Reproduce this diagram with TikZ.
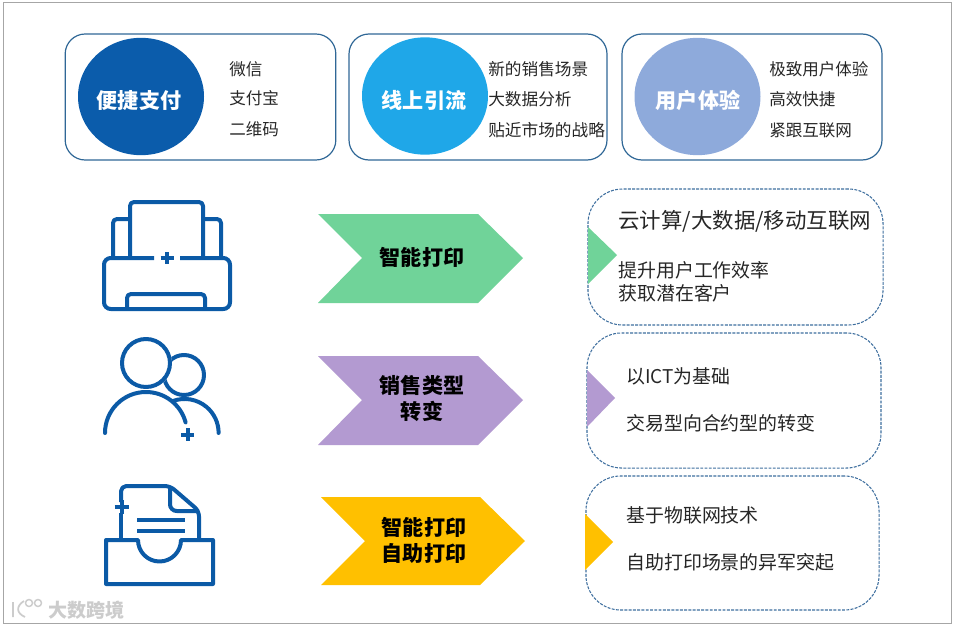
\documentclass[tikz,border=0pt]{standalone}
\usepackage{fontspec}
\setmainfont{Noto Sans CJK SC}
\usetikzlibrary{arrows.meta,positioning,shapes.geometric}
\definecolor{iconblue}{HTML}{0B5AA6}
\definecolor{cardblue}{HTML}{2F6796}
\definecolor{dashblue}{HTML}{3E6E9E}
\definecolor{payblue}{HTML}{0B5CAB}
\definecolor{flowblue}{HTML}{1FA7E8}
\definecolor{userblue}{HTML}{8EAADB}
\definecolor{printgreen}{HTML}{70D399}
\definecolor{salepurple}{HTML}{B39AD1}
\definecolor{selfyellow}{HTML}{FFC000}
\begin{document}
\begin{tikzpicture}[x=0.75pt, y=-0.75pt,
  card/.style={draw=cardblue, line width=0.9pt, rounded corners=15pt, minimum height=94.5pt},
  bubble/.style={ellipse, minimum width=94.5pt, minimum height=88pt, inner sep=0pt},
  bubbletext/.style={inner sep=0pt, text=white, font=\fontsize{15.8pt}{19pt}\selectfont\bfseries},
  item/.style={anchor=west, inner sep=0pt, text=black!85, font=\fontsize{12.4pt}{15pt}\selectfont},
  panel/.style={draw=dashblue, line width=0.8pt, rounded corners=26pt, dash pattern=on 2.2pt off 1pt},
  tag/.style={align=center, inner sep=0pt, font=\fontsize{15.8pt}{19.5pt}\selectfont\bfseries},
  note/.style={anchor=west, inner sep=0pt, text=black!85, font=\fontsize{14.2pt}{18pt}\selectfont},
  icon/.style={draw=iconblue, line width=3pt, line join=round}]
\useasboundingbox (0,0) rectangle (954,628);
\draw[gray!70, line width=0.6pt] (3,2) rectangle (951,623);
% top row
\node[card, minimum width=203pt] (card1) at (200.5,97) {};
\node[card, minimum width=193.5pt] (card2) at (478,97) {};
\node[card, minimum width=195pt] (card3) at (752,97) {};
\node[bubble, fill=payblue] (pay) at (141,96.5) {};
\node[bubble, fill=flowblue] (flow) at (425,96) {};
\node[bubble, fill=userblue] (user) at (697.5,96.5) {};
\node[bubbletext] (paytext) at (139,100.5) {便捷支付};
\node[bubbletext] (flowtext) at (424,100.5) {线上引流};
\node[bubbletext] (usertext) at (698,100.5) {用户体验};
\node[item] (pay1) at (229,69.5) {微信};
\node[item] (pay2) at (229,98.5) {支付宝};
\node[item] (pay3) at (229,129.5) {二维码};
\node[item, font=\fontsize{12.5pt}{15pt}\selectfont] (flow1) at (488,69) {新的销售场景};
\node[item, font=\fontsize{12.5pt}{15pt}\selectfont] (flow2) at (488,99) {大数据分析};
\node[item, font=\fontsize{12.5pt}{15pt}\selectfont] (flow3) at (488,130) {贴近市场的战略};
\node[item] (user1) at (769,69) {极致用户体验};
\node[item] (user2) at (769,99) {高效快捷};
\node[item] (user3) at (769,130) {紧跟互联网};
% chevrons
\fill[printgreen] (318,214) -- (478,214) -- (523,258) -- (478,303) -- (318,303) -- (362,258) -- cycle;
\fill[salepurple] (318,356) -- (478,356) -- (523,400) -- (478,445) -- (318,445) -- (362,400) -- cycle;
\fill[selfyellow] (321,497) -- (480,497) -- (525,541) -- (480,585) -- (321,585) -- (365,541) -- cycle;
\node[tag] (tag1) at (422,257) {智能打印};
\node[tag] (tag2) at (422,399) {销售类型\\转变};
\node[tag] (tag3) at (424,540) {智能打印\\自助打印};
% right panels
\node[panel, minimum width=221.3pt, minimum height=102pt] (panel1) at (735.5,257) {};
\node[panel, minimum width=220.5pt, minimum height=101.3pt] (panel2) at (734,400.5) {};
\node[panel, minimum width=219.8pt, minimum height=100.5pt] (panel3) at (732.5,543) {};
\fill[printgreen] (588,227) -- (617,255) -- (588,284) -- cycle;
\fill[salepurple] (587,370) -- (615,398) -- (587,427) -- cycle;
\fill[selfyellow] (585,514) -- (613,542) -- (585,570) -- cycle;
\node[note, font=\fontsize{16.1pt}{19pt}\selectfont] (head1) at (618,221) {云计算/大数据/移动互联网};
\node[note] (note1) at (618,270.5) {提升用户工作效率};
\node[note] (note2) at (618,293.5) {获取潜在客户};
\node[note] (note3) at (626,376.5) {以ICT为基础};
\node[note] (note4) at (626,423.5) {交易型向合约型的转变};
\node[note] (note5) at (626,515.5) {基于物联网技术};
\node[note] (note6) at (626,562.5) {自助打印场景的异军突起};
% printer
\draw[icon, rounded corners=3pt] (130,258) -- (130,202) -- (203,202) -- (203,258);
\draw[icon, rounded corners=3pt] (130,219) -- (113,219) -- (113,258);
\draw[icon, rounded corners=3pt] (203,219) -- (221,219) -- (221,258);
\draw[icon, rounded corners=5pt] (154,258) -- (104,258) -- (104,309) -- (230,309) -- (230,258) -- (180,258);
\draw[icon, rounded corners=3pt] (127,309) -- (127,294) -- (205,294) -- (205,309);
\draw[icon] (160.5,258) -- (173.5,258) (167,252) -- (167,264);
% people
\begin{scope}
\clip (100,335) rectangle (225,440);
\draw[icon] (184,375) circle[radius=20];
\fill[white] (146,363) circle[radius=26];
\draw[icon] (146,363) circle[radius=24];
\draw[icon, line cap=round] (105,433) arc[start angle=180, end angle=345, radius=41];
\draw[icon, line cap=round] (173,401) arc[start angle=250, end angle=360, radius=34];
\end{scope}
\draw[icon] (181,434.5) -- (194,434.5) (187.5,428) -- (187.5,441);
% inbox
\draw[icon] (106,540) -- (138,540) arc[start angle=180, end angle=0, radius=21.5] -- (213,540) -- (213,584) -- (106,584) -- cycle;
\draw[icon, rounded corners=4pt] (121,540) -- (121,513);
\draw[icon, rounded corners=4pt] (121,502) -- (121,486) -- (170,486) -- (199,511) -- (199,540);
\draw[icon, rounded corners=5pt] (170,486) -- (170,511) -- (199,511);
\draw[icon] (114.5,507) -- (129,507) (121.5,500) -- (121.5,514);
\draw[icon, line width=2.4pt] (137,520) -- (185,520) (137,531) -- (185,531);
% watermark
\node[inner sep=0pt, anchor=west, text=gray!40, font=\fontsize{14.3pt}{18pt}\selectfont\bfseries] (mark) at (48,610) {大数跨境};
\draw[gray!40, line width=1.3pt] (13,602) -- (13,617) (24,601) .. controls (16,606) and (16,613) .. (25,617);
\draw[gray!40, line width=1.1pt] (29,603) circle[radius=3.5] (38,603) circle[radius=3.5];
\end{tikzpicture}
\end{document}
